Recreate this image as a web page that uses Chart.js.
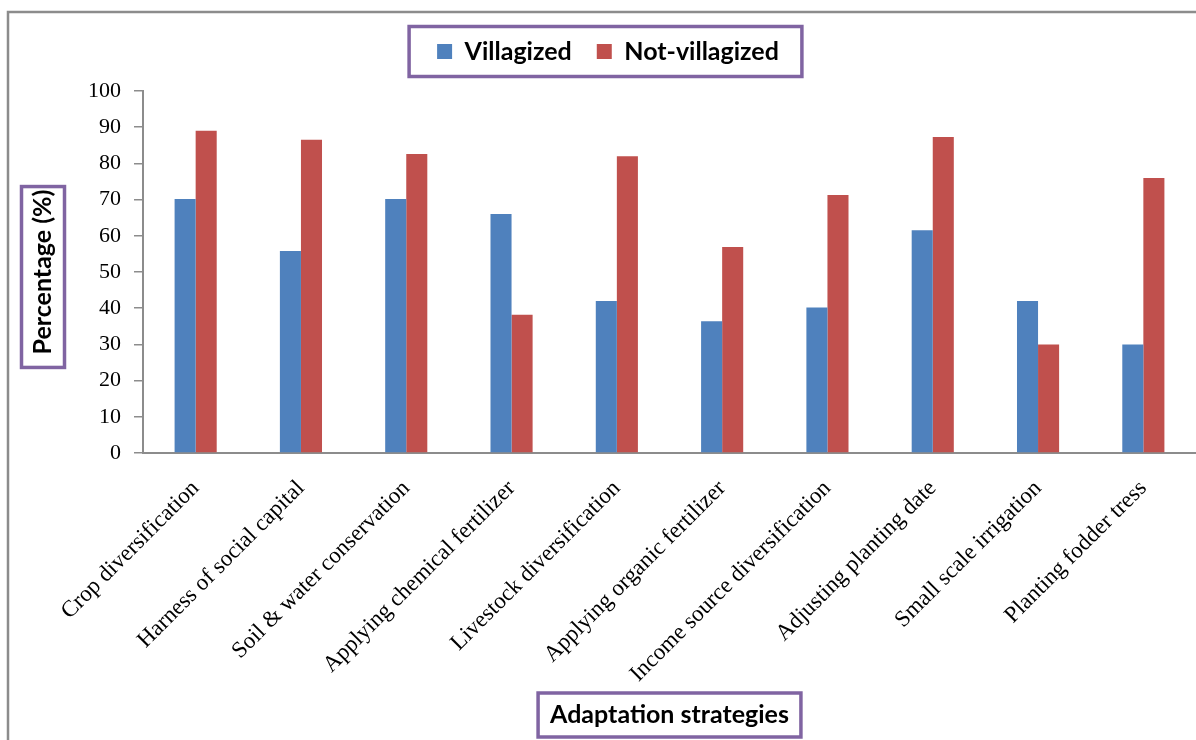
<!DOCTYPE html>
<html lang="en">
<head>
    <meta charset="UTF-8">
    <title>Adaptation strategies</title>
    <script src="https://cdn.jsdelivr.net/npm/chart.js@4/dist/chart.umd.min.js"></script>
    <style>
        body { margin: 0; background: #fff; }
    </style>
</head>
<body>
    <canvas id="myChart" width="1196" height="740"></canvas>

    <script>
        const strategies = [
            'Crop diversification',
            'Harness of social capital',
            'Soil & water conservation',
            'Applying chemical fertilizer',
            'Livestock diversification',
            'Applying organic fertilizer',
            'Income source diversification',
            'Adjusting planting date',
            'Small scale irrigation',
            'Planting fodder tress'
        ];
        const villagized    = [70.2, 55.8, 70.2, 66.0, 42.0, 36.4, 40.2, 61.5, 42.0, 30.0];
        const notVillagized = [89.0, 86.5, 82.6, 38.2, 82.0, 56.9, 71.3, 87.3, 30.0, 76.0];
        const yTicks = [0, 10, 20, 30, 40, 50, 60, 70, 80, 90, 100];

        const purple = '#8064A2';
        const axisGrey = '#8c8c8c';
        const titleSize = 25;
        const titleFont = { family: 'Lato', size: titleSize, weight: 'bold', lineHeight: 1.2 };

        // purple frames round the legend and the axis titles, grey outer frame
        const boxes = {
            id: 'boxes',
            beforeInit(chart) {
                const fit = chart.legend.fit;
                chart.legend.fit = function () {
                    fit.bind(chart.legend)();
                    this.height = 77;
                };
            },
            beforeDraw(chart) {
                const ctx = chart.ctx;
                ctx.save();
                ctx.fillStyle = '#fff';
                ctx.fillRect(0, 0, chart.width, chart.height);
                ctx.strokeStyle = axisGrey;
                ctx.lineWidth = 2.5;
                ctx.beginPath();
                ctx.moveTo(8, chart.height);
                ctx.lineTo(8, 12);
                ctx.lineTo(chart.width, 12);
                ctx.stroke();
                ctx.restore();
            },
            afterDraw(chart) {
                const ctx = chart.ctx;
                const area = chart.chartArea;
                const lh = titleSize * 1.2;
                ctx.save();
                ctx.strokeStyle = purple;
                ctx.lineWidth = 3.5;
                ctx.font = 'bold ' + titleSize + 'px Lato';

                // legend
                const hb = chart.legend.legendHitBoxes;
                if (hb.length) {
                    const first = hb[0], last = hb[hb.length - 1];
                    const cy = first.top + first.height / 2;
                    const l = first.left - 28, r = last.left + last.width + 23;
                    ctx.strokeRect(l, cy - 25, r - l, 50);
                }

                // x title
                const xs = chart.scales.x;
                const xw = ctx.measureText(xs.options.title.text).width;
                const xcx = (area.left + area.right) / 2;
                const xcy = xs.bottom - 8 - lh / 2;
                ctx.strokeRect(xcx - xw / 2 - 12, xcy - 22, xw + 24, 44);

                // y title
                const ys = chart.scales.y;
                const yw = ctx.measureText(ys.options.title.text).width;
                const ycx = ys.left + 8 + lh / 2;
                const ycy = (ys.top + ys.bottom) / 2 + 5;
                ctx.strokeRect(ycx - 21.5, ycy - yw / 2 - 8, 43, yw + 16);
                ctx.restore();
            }
        };

        const chart = new Chart('myChart', {
            type: 'bar',
            data: {
                labels: strategies,
                datasets: [{
                    label: 'Villagized',
                    data: villagized,
                    backgroundColor: '#4F81BD'
                }, {
                    label: 'Not-villagized',
                    data: notVillagized,
                    backgroundColor: '#C0504D'
                }]
            },
            options: {
                responsive: false,
                animation: false,
                devicePixelRatio: 1,
                datasets: {
                    bar: {
                        categoryPercentage: 0.4,
                        barPercentage: 1
                    }
                },
                layout: {
                    padding: { top: 14, left: 20, right: 0, bottom: 2 }
                },
                plugins: {
                    legend: {
                        display: true,
                        position: 'top',
                        labels: {
                            boxWidth: 15,
                            boxHeight: 15,
                            padding: 25,
                            color: '#000',
                            font: titleFont
                        }
                    },
                    tooltip: { enabled: false }
                },
                scales: {
                    x: {
                        grid: { display: false },
                        border: { display: true, color: axisGrey, width: 2 },
                        ticks: {
                            autoSkip: false,
                            maxRotation: 45,
                            minRotation: 45,
                            padding: 14,
                            color: '#000',
                            font: { family: 'Liberation Serif', size: 23 }
                        },
                        title: {
                            display: true,
                            text: 'Adaptation strategies',
                            color: '#000',
                            font: titleFont,
                            padding: { top: 0, bottom: 8 }
                        },
                        afterFit(scale) { scale.height = 285; }
                    },
                    y: {
                        min: 0,
                        max: 100,
                        afterBuildTicks(scale) {
                            scale.ticks = yTicks.map(v => ({ value: v }));
                        },
                        grid: {
                            drawOnChartArea: false,
                            drawTicks: true,
                            tickLength: 9,
                            color: axisGrey,
                            lineWidth: 1.5
                        },
                        border: { display: true, color: axisGrey, width: 2 },
                        ticks: {
                            padding: 13,
                            color: '#000',
                            font: { family: 'Liberation Serif', size: 22 }
                        },
                        title: {
                            display: true,
                            text: 'Percentage (%)',
                            color: '#000',
                            font: titleFont,
                            padding: { top: 8, bottom: 0 }
                        },
                        afterFit(scale) { scale.width = 123; }
                    }
                }
            },
            plugins: [boxes]
        });
    </script>
</body>
</html>
